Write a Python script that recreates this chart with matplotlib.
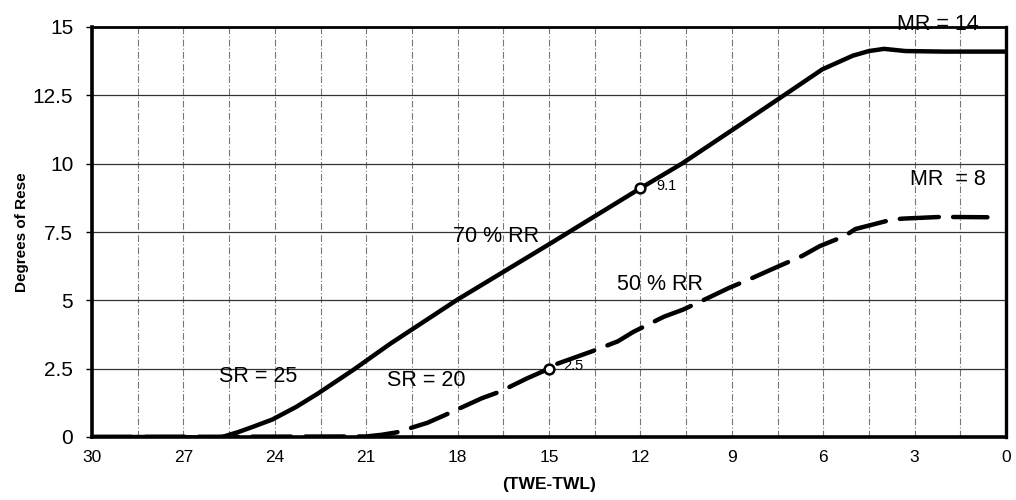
import numpy as np
import matplotlib
matplotlib.use("Agg")
import matplotlib.pyplot as plt

plt.rcParams['font.family'] = ['Liberation Sans', 'DejaVu Sans']

# 70 % RR curve (solid)
rr70_x = [30, 27, 26.3, 25.73, 25.2, 24.7, 24.08, 23.3, 22.6, 21.43, 20.2, 18, 15, 12,
          10.64, 9, 7.29, 6.03, 5.03, 4.5, 4.0, 3.3, 2, 0]
rr70_y = [0, 0, -0.04, 0, 0.18, 0.38, 0.64, 1.1, 1.58, 2.45, 3.42, 5.03, 7.05, 9.1,
          10.0, 11.22, 12.5, 13.45, 13.95, 14.12, 14.2, 14.12, 14.1, 14.1]

# 50 % RR curve (dashed)
rr50_x = [30, 21, 20.5, 20.0, 18.99, 18.5, 17.2, 16.61, 15.73, 15, 14.73, 14.3, 13.55,
          12.74, 12.24, 11.23, 10.6, 9.72, 9.1, 8.28, 7.78, 6.68, 6.12, 5.3, 4.94, 3.72,
          3.38, 2.18, 1.92, 0.61]
rr50_y = [0, 0.02, 0.08, 0.17, 0.52, 0.76, 1.42, 1.66, 2.14, 2.5, 2.68, 2.85, 3.15,
          3.5, 3.84, 4.4, 4.66, 5.12, 5.45, 5.84, 6.09, 6.63, 6.98, 7.35, 7.61, 7.96,
          7.99, 8.05, 8.05, 8.04]

# marked points
mark_x = [12, 15]
mark_y = [9.1, 2.5]
mark_labels = ["9.1", "2.5"]

x_ticks = [30, 27, 24, 21, 18, 15, 12, 9, 6, 3, 0]
y_ticks = [0, 2.5, 5, 7.5, 10, 12.5, 15]
y_ticklabels = ["0", "2.5", "5", "7.5", "10", "12.5", "15"]

fig = plt.figure(figsize=(10.16, 5.0), dpi=100)
ax = fig.add_axes([92 / 1016, 1 - 437 / 500, (1006 - 92) / 1016, (437 - 27) / 500])

ax.set_xlim(30, 0)
ax.set_ylim(0, 15)

# grid: dash-dot verticals every 1.5, solid horizontals at the y ticks
for gx in np.arange(28.5, 0.5, -1.5):
    ax.axvline(gx, color='#777777', lw=0.8, ls=(0, (6, 2, 1, 2)), zorder=1)
for gy in y_ticks[1:-1]:
    ax.axhline(gy, color='#333333', lw=0.9, zorder=1)

ax.plot(rr70_x, rr70_y, color='black', lw=3.2, solid_joinstyle='round',
        solid_capstyle='round', zorder=3)
ax.plot(rr50_x, rr50_y, color='black', lw=3.2, dashes=(8.8, 3.2),
        dash_capstyle='round', dash_joinstyle='round', zorder=3)
ax.plot(mark_x, mark_y, 'o', ms=7, mfc='white', mec='black', mew=1.8, zorder=4)
ax.text(11.48, 9.17, mark_labels[0], fontsize=10.5, va='center', ha='left')
ax.text(14.54, 2.61, mark_labels[1], fontsize=10.5, va='center', ha='left')

ax.text(16.73, 7.35, "70 % RR", fontsize=15.5, ha='center', va='center')
ax.text(11.37, 5.58, "50 % RR", fontsize=15.5, ha='center', va='center')
ax.text(24.55, 2.22, "SR = 25", fontsize=15.5, ha='center', va='center')
ax.text(19.04, 2.06, "SR = 20", fontsize=15.5, ha='center', va='center')
ax.text(2.22, 15.08, "MR = 14", fontsize=15.5, ha='center', va='center', clip_on=False,
        zorder=5)
ax.text(1.92, 9.41, "MR  = 8", fontsize=15.5, ha='center', va='center')

ax.set_xticks(x_ticks)
ax.set_xticklabels([str(t) for t in x_ticks], fontsize=12.5)
ax.set_yticks(y_ticks)
ax.set_yticklabels(y_ticklabels, fontsize=15)
ax.tick_params(axis='x', length=0, pad=9)
ax.tick_params(axis='y', length=4.5, width=1, pad=9)

for side, lw in [('left', 2.6), ('bottom', 2.6), ('right', 2.4), ('top', 2.0)]:
    ax.spines[side].set_linewidth(lw)

ax.set_xlabel("(TWE-TWL)", fontsize=12.5, fontweight='bold', labelpad=9)
ax.set_ylabel("Degrees of Rese", fontsize=11, fontweight='bold', labelpad=3)

fig.savefig("out.png", dpi=100)
